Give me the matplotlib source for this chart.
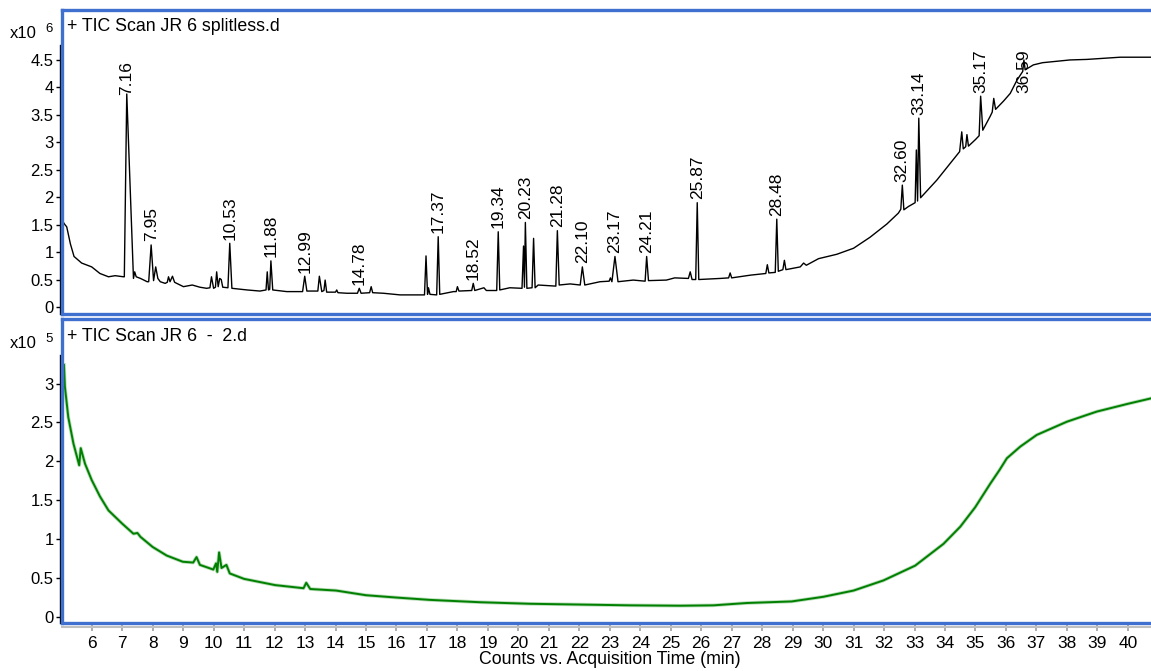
import matplotlib
matplotlib.use("Agg")
import matplotlib.pyplot as plt
from matplotlib.ticker import FuncFormatter
from matplotlib.transforms import ScaledTranslation

plt.rcParams['font.family'] = ['Liberation Sans', 'DejaVu Sans']

# ---------------- data ----------------
# Top trace: TIC Scan JR 6 splitless.d  (counts x10^6)
top_t = [5.06, 5.12, 5.18, 5.30, 5.42, 5.67, 6.00, 6.27, 6.55, 6.77, 7.04, 7.07, 7.15, 7.37, 7.41, 7.46,
         7.60, 7.82, 7.87, 7.95, 8.03, 8.10, 8.17, 8.25, 8.41, 8.48, 8.52, 8.57, 8.65, 8.72, 8.79, 9.01,
         9.30, 9.55, 9.77, 9.88, 9.93, 10.00, 10.06, 10.10, 10.15, 10.20, 10.25, 10.30, 10.47, 10.53,
         10.60, 11.10, 11.52, 11.72, 11.76, 11.80, 11.84, 11.88, 11.94, 12.40, 12.92, 12.99, 13.06,
         13.42, 13.47, 13.55, 13.62, 13.66, 13.71, 14.00, 14.04, 14.08, 14.37, 14.72, 14.78, 14.84,
         15.12, 15.17, 15.22, 15.57, 16.12, 16.92, 16.97, 17.02, 17.05, 17.10, 17.32, 17.37, 17.42,
         17.87, 17.96, 18.00, 18.05, 18.47, 18.52, 18.57, 18.87, 18.95, 19.29, 19.34, 19.39, 19.72,
         20.12, 20.17, 20.20, 20.23, 20.28, 20.45, 20.50, 20.55, 20.65, 21.23, 21.28, 21.34, 21.70,
         22.03, 22.10, 22.18, 22.68, 22.98, 23.02, 23.07, 23.17, 23.27, 23.77, 24.16, 24.21, 24.27,
         24.86, 25.13, 25.58, 25.64, 25.70, 25.82, 25.87, 25.92, 26.63, 26.90, 26.95, 27.00, 27.62,
         28.12, 28.17, 28.22, 28.43, 28.48, 28.53, 28.68, 28.73, 28.78, 29.25, 29.36, 29.45, 29.85,
         30.45, 31.00, 31.54, 32.09, 32.47, 32.55, 32.60, 32.65, 32.80, 33.02, 33.06, 33.10, 33.14, 33.20,
         33.73, 34.28, 34.48, 34.55, 34.60, 34.68, 34.72, 34.77, 35.00, 35.12, 35.17, 35.24, 35.48,
         35.55, 35.60, 35.66, 35.92, 36.14, 36.36, 36.55, 36.59, 36.63, 36.90, 37.20, 37.56, 38.10,
         38.66, 39.20, 39.75, 40.76]
top_v = [1.55, 1.50, 1.46, 1.15, 0.92, 0.80, 0.73, 0.61, 0.55, 0.57, 0.55, 0.55, 3.88, 0.52, 0.64, 0.55,
         0.52, 0.46, 0.46, 1.13, 0.48, 0.73, 0.52, 0.46, 0.43, 0.45, 0.55, 0.46, 0.56, 0.45, 0.43, 0.37,
         0.40, 0.36, 0.34, 0.35, 0.55, 0.34, 0.36, 0.64, 0.37, 0.52, 0.50, 0.36, 0.35, 1.16,
         0.34, 0.31, 0.29, 0.31, 0.64, 0.31, 0.32, 0.84, 0.31, 0.28, 0.28, 0.56, 0.29,
         0.29, 0.56, 0.28, 0.30, 0.49, 0.27, 0.27, 0.31, 0.26, 0.25, 0.25, 0.34, 0.25,
         0.26, 0.37, 0.26, 0.25, 0.22, 0.22, 0.93, 0.23, 0.35, 0.23, 0.22, 1.28, 0.23,
         0.28, 0.28, 0.37, 0.29, 0.30, 0.43, 0.30, 0.35, 0.30, 0.30, 1.37, 0.31, 0.35,
         0.34, 1.11, 0.36, 1.54, 0.34, 0.35, 1.25, 0.35, 0.40, 0.38, 1.39, 0.40, 0.42,
         0.40, 0.73, 0.40, 0.46, 0.47, 0.53, 0.46, 0.92, 0.46, 0.49, 0.47, 0.92, 0.48,
         0.49, 0.53, 0.52, 0.64, 0.50, 0.50, 1.90, 0.50, 0.52, 0.53, 0.62, 0.53, 0.58,
         0.61, 0.77, 0.62, 0.63, 1.60, 0.65, 0.68, 0.85, 0.68, 0.73, 0.80, 0.76, 0.88,
         0.96, 1.07, 1.27, 1.51, 1.71, 1.78, 2.22, 1.77, 1.83, 1.90, 2.86, 1.93, 3.44, 1.99,
         2.31, 2.69, 2.83, 3.19, 2.88, 2.92, 3.14, 2.93, 3.05, 3.12, 3.84, 3.22, 3.47,
         3.55, 3.80, 3.60, 3.75, 3.89, 4.13, 4.29, 4.50, 4.32, 4.41, 4.45, 4.47, 4.50,
         4.51, 4.53, 4.55, 4.55]

# Labelled peaks (retention time label, position, anchor height x10^6)
peak_labels = ["7.16", "7.95", "10.53", "11.88", "12.99", "14.78", "17.37", "18.52", "19.34",
               "20.23", "21.28", "22.10", "23.17", "24.21", "25.87", "28.48", "32.60", "33.14",
               "35.17", "36.59"]
peak_t = [7.15, 7.95, 10.53, 11.88, 12.99, 14.78, 17.37, 18.52, 19.34,
          20.23, 21.28, 22.10, 23.17, 24.21, 25.87, 28.48, 32.60, 33.14,
          35.17, 36.59]
peak_h = [3.80, 1.13, 1.16, 0.84, 0.56, 0.34, 1.28, 0.43, 1.37,
          1.54, 1.39, 0.73, 0.92, 0.92, 1.90, 1.60, 2.22, 3.44,
          3.84, 3.84]

# Bottom trace: TIC Scan JR 6 - 2.d  (counts x10^5)
bot_t = [5.09, 5.12, 5.23, 5.40, 5.59, 5.64, 5.78, 6.00, 6.27, 6.55, 7.00, 7.37, 7.50, 7.60, 8.00,
         8.46, 8.99, 9.33, 9.44, 9.55, 9.99, 10.08, 10.12, 10.18, 10.26, 10.42, 10.53, 11.00,
         12.02, 12.95, 13.04, 13.17, 14.02, 15.00, 16.00, 17.10, 18.74, 20.38, 22.03, 23.67,
         25.31, 26.40, 27.50, 28.97, 30.01, 31.00, 31.98, 33.02, 33.95, 34.50, 34.99, 35.48,
         35.79, 36.03, 36.47, 37.01, 38.00, 38.98, 40.00, 40.76]
bot_v = [3.24, 2.96, 2.57, 2.23, 1.95, 2.17, 1.97, 1.76, 1.55, 1.37, 1.20, 1.07, 1.08, 1.03, 0.90,
         0.79, 0.71, 0.70, 0.77, 0.67, 0.61, 0.69, 0.58, 0.83, 0.63, 0.67, 0.56, 0.49,
         0.41, 0.37, 0.44, 0.36, 0.34, 0.28, 0.25, 0.22, 0.19, 0.17, 0.16, 0.15,
         0.145, 0.15, 0.18, 0.20, 0.26, 0.34, 0.47, 0.66, 0.94, 1.16, 1.41, 1.71,
         1.89, 2.04, 2.19, 2.34, 2.51, 2.64, 2.74, 2.81]

top_title = "+ TIC Scan JR 6 splitless.d"
bot_title = "+ TIC Scan JR 6  -  2.d"
x_label = "Counts vs. Acquisition Time (min)"
top_yticks = [0, 0.5, 1, 1.5, 2, 2.5, 3, 3.5, 4, 4.5]
bot_yticks = [0, 0.5, 1, 1.5, 2, 2.5, 3]
x_ticks = list(range(6, 41))

# ---------------- figure ----------------
W, H = 1151, 671
fig = plt.figure(figsize=(W / 100, H / 100), dpi=100)

def fx(px):
    return px / W

def fy(py):
    return 1 - py / H

ax1 = fig.add_axes([fx(62), fy(314), fx(1151 - 62), (314 - 10) / H])
ax2 = fig.add_axes([fx(62), fy(623), fx(1151 - 62), (623 - 319) / H])

frame_blue = '#3f6fcf'
fmt = FuncFormatter(lambda v, p: '%g' % v)

for ax in (ax1, ax2):
    ax.set_xlim(5.025, 40.76)
    for s in ('top', 'bottom', 'left'):
        ax.spines[s].set_color(frame_blue)
        ax.spines[s].set_linewidth(2.4)
    ax.spines['right'].set_visible(False)
    ax.yaxis.set_major_formatter(fmt)
    ax.tick_params(axis='y', direction='out', length=4.0, width=1.0, color='black',
                   labelsize=12, pad=2)

# top panel
ax1.plot(top_t, top_v, color='black', lw=1.0)
ax1.set_ylim(-0.128, 5.41)
ax1.set_yticks(top_yticks)
ax1.tick_params(axis='x', bottom=False, labelbottom=False)
for lab, t, h in zip(peak_labels, peak_t, peak_h):
    ax1.annotate(lab, xy=(t, h), xytext=(0, 2.5), textcoords='offset points',
                 rotation=90, ha='center', va='bottom', fontsize=12.5)

# bottom panel
ax2.plot(bot_t, bot_v, color='#7fc07f', lw=2.6, alpha=0.55, solid_joinstyle='round')
ax2.plot(bot_t, bot_v, color='#008000', lw=1.4)
ax2.set_ylim(-0.077, 3.83)
ax2.set_yticks(bot_yticks)
ax2.set_xticks(x_ticks)
ax2.tick_params(axis='x', direction='out', length=6.0, width=1.2, color='#a0a0a0',
                labelsize=12.5, pad=3, labelcolor='black')

# black y-axis lines just left of frames
off = ScaledTranslation(-2.5 / 100, 0, fig.dpi_scale_trans)
ax1.plot([0, 0], [-0.128, 4.77], color='black', lw=1.0, clip_on=False,
         transform=ax1.get_yaxis_transform() + off)
ax2.plot([0, 0], [-0.077, 3.37], color='black', lw=1.0, clip_on=False,
         transform=ax2.get_yaxis_transform() + off)
# light grey x-axis line below the lower frame
offd = ScaledTranslation(0, -3.5 / 100, fig.dpi_scale_trans)
ax2.plot([0, 1], [0, 0], color='#c0c0c0', lw=1.5, clip_on=False,
         transform=ax2.transAxes + offd)

# texts
fig.text(fx(67), fy(31), top_title, fontsize=12.8, va='baseline', ha='left')
fig.text(fx(67), fy(341), bot_title, fontsize=12.8, va='baseline', ha='left')
fig.text(fx(10), fy(38), "x10", fontsize=12, va='baseline', ha='left')
fig.text(fx(45), fy(32), "6", fontsize=9.5, va='baseline', ha='left')
fig.text(fx(10), fy(348), "x10", fontsize=12, va='baseline', ha='left')
fig.text(fx(45), fy(342), "5", fontsize=9.5, va='baseline', ha='left')
fig.text(fx(610), fy(659), x_label, fontsize=12.8, va='center', ha='center')

fig.savefig("out.png", dpi=100)
